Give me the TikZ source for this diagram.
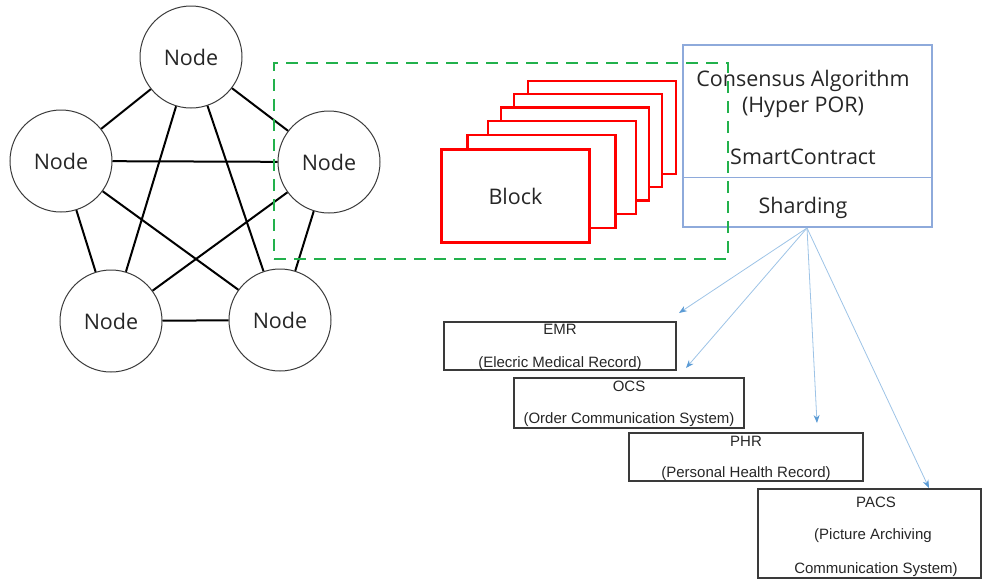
\documentclass[tikz,border=0pt]{standalone}
\usepackage{fontspec}
\setmainfont{Open Sans}
\newfontfamily\arialfont{Liberation Sans}
\usetikzlibrary{arrows.meta}

\definecolor{inkgray}{HTML}{262626}
\definecolor{rimgray}{HTML}{3A3A3A}
\definecolor{chainred}{HTML}{FF0000}
\definecolor{framegreen}{HTML}{22B14C}
\definecolor{paneblue}{HTML}{8EAADB}
\definecolor{linkblue}{HTML}{9DC3E6}
\definecolor{tipblue}{HTML}{5B9BD5}

\tikzset{
  peer/.style={circle, draw=rimgray, line width=1pt, minimum size=102pt,
    inner sep=0pt, font=\fontsize{21.5}{25}\selectfont, text=inkgray},
  mesh/.style={line width=2pt, black},
  blockbox/.style={rectangle, draw=chainred, line width=2.3pt, fill=white,
    minimum width=148pt, minimum height=93pt, inner sep=0pt},
  pane/.style={rectangle, draw=paneblue, line width=1.1pt,
    minimum width=249pt, minimum height=182pt, inner sep=0pt},
  panetext/.style={font=\fontsize{21.5}{25}\selectfont, text=inkgray, inner sep=0pt},
  sysbox/.style={rectangle, draw=rimgray, line width=1.3pt, inner sep=0pt},
  systext/.style={font=\arialfont\fontsize{15}{18}\selectfont, text=inkgray, inner sep=0pt},
  feed/.style={draw=linkblue, line width=0.8pt,
    -{Stealth[length=8pt, width=6pt, fill=tipblue, color=tipblue]}},
  chainframe/.style={rectangle, draw=framegreen, line width=2.2pt,
    dash pattern=on 12pt off 8pt, minimum width=454pt, minimum height=196pt, inner sep=0pt}
}

\begin{document}
\begin{tikzpicture}[x=1pt, y=-1pt]
\useasboundingbox (0,0) rectangle (983,579);

% peer-to-peer network of five nodes
\node[peer] (n1) at (191,57)  {Node};
\node[peer] (n2) at (61,161)  {Node};
\node[peer] (n3) at (329,162) {Node};
\node[peer] (n4) at (111,321) {Node};
\node[peer] (n5) at (280,320) {Node};
\foreach \a/\b in {n1/n2, n1/n3, n1/n4, n1/n5, n2/n3, n2/n4, n2/n5, n3/n4, n3/n5, n4/n5}
  \draw[mesh] (\a) -- (\b);

% stacked blocks, back to front
\node[blockbox] (b6) at (602.0,127.3) {};
\node[blockbox] (b5) at (587.8,140.7) {};
\node[blockbox] (b4) at (574.8,154.0) {};
\node[blockbox] (b3) at (561.7,167.3) {};
\node[blockbox] (b2) at (541.5,181.7) {};
\node[blockbox, font=\fontsize{21.5}{25}\selectfont, text=inkgray] (b1) at (515.5,196.0) {Block\hspace{12pt}};

% consensus / contract / sharding panel
\node[pane] (cons) at (807.5,136) {};
\draw[paneblue, line width=0.8pt] (cons.west |- 0,177) coordinate (divl) -- (cons.east |- 0,177) coordinate (divr);
\node[panetext] (alg)   at (803,81)  {Consensus Algorithm};
\node[panetext] (hyper) at (803,107) {(Hyper POR)};
\node[panetext] (smart) at (803,157) {SmartContract};
\node[panetext] (shard) at (803,208) {Sharding};

% hospital systems
\node[sysbox, minimum width=232pt, minimum height=48pt] (emr)  at (560,346)   {};
\node[sysbox, minimum width=230pt, minimum height=50pt] (ocs)  at (629,403)   {};
\node[sysbox, minimum width=234pt, minimum height=48pt] (phr)  at (746,457)   {};
\node[sysbox, minimum width=223pt, minimum height=89pt] (pacs) at (869.5,533.5) {};

\node[systext] (emrA)  at (560,329) {EMR};
\node[systext] (emrB)  at (560,364) {(Elecric Medical Record)};
\node[systext] (ocsA)  at (629,386) {OCS};
\node[systext] (ocsB)  at (629,420) {(Order Communication System)};
\node[systext] (phrA)  at (746,441) {PHR};
\node[systext] (phrB)  at (746,474) {(Personal Health Record)};
\node[systext] (pacsA) at (876,502) {PACS};
\node[systext] (pacsB) at (873,536) {(Picture Archiving};
\node[systext] (pacsC) at (876,570) {Communication System)};

% sharding fan-out
\coordinate (src)   at (807,228);
\coordinate (tEMR)  at (679,313);
\coordinate (tOCS)  at (686,368);
\coordinate (tPHR)  at (817,423);
\coordinate (tPACS) at (929,488);
\draw[feed] (src) -- (tEMR);
\draw[feed] (src) -- (tOCS);
\draw[feed] (src) -- (tPHR);
\draw[feed] (src) -- (tPACS);

% dashed frame around the chain
\node[chainframe] (frame) at (501,161) {};
\end{tikzpicture}
\end{document}
